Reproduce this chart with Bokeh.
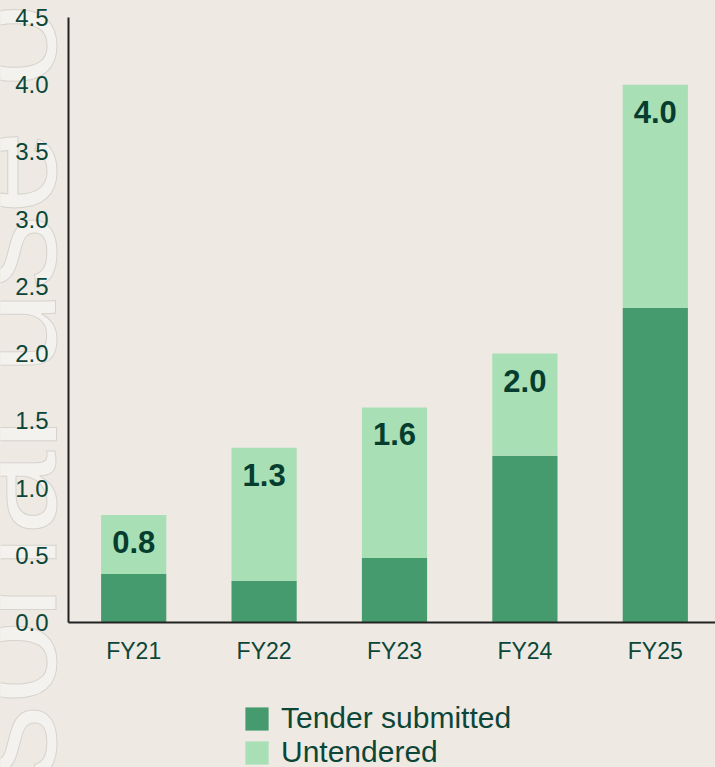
import math
from bokeh.plotting import figure
from bokeh.models import (Range1d, FixedTicker, ColumnDataSource, Legend, LegendItem,
                          Label, LabelSet, NumeralTickFormatter)
from bokeh.core.properties import value
from bokeh.embed import file_html
from bokeh.resources import INLINE

# ---- data ----
categories = ["FY21", "FY22", "FY23", "FY24", "FY25"]
tender_submitted = [0.36, 0.31, 0.48, 1.24, 2.34]
untendered = [0.44, 0.99, 1.12, 0.76, 1.66]
totals = [0.8, 1.3, 1.6, 2.0, 4.0]
total_labels = ["0.8", "1.3", "1.6", "2.0", "4.0"]
y_ticks = [0.0, 0.5, 1.0, 1.5, 2.0, 2.5, 3.0, 3.5, 4.0, 4.5]
series_names = ["Tender submitted", "Untendered"]

BG = "#EEEAE3"
DARK = "#459B6E"
LIGHT = "#A8DFB4"
TXT = "#0C4638"
LBL = "#063D2F"
FONT = "Liberation Sans"

W, H = 715, 767
X0_PX, Y0_PX = 68, 622          # where the axes cross (screen px)
PX_X = 130.4                    # px per category
PX_Y = (622 - 17) / 4.5         # px per unit

xs = list(range(len(categories)))
src = ColumnDataSource(dict(
    x=xs,
    sub=tender_submitted,
    top=[a + b for a, b in zip(tender_submitted, untendered)],
    total=totals,
    lab=total_labels,
))

x_start = -0.5 - X0_PX / PX_X
x_end = -0.5 + (W - X0_PX) / PX_X
y_start = -(H - Y0_PX) / PX_Y
y_end = Y0_PX / PX_Y

p = figure(width=W, height=H, output_backend="svg", toolbar_location=None,
           x_range=Range1d(x_start, x_end), y_range=Range1d(y_start, y_end),
           min_border=0)
p.background_fill_color = BG
p.border_fill_color = BG
p.outline_line_color = None
p.xgrid.visible = False
p.ygrid.visible = False

# watermark (drawn first, underneath everything)
wm = Label(x=-0.9985, y=-4.82, text="For personal use only", angle=math.pi / 2,
           text_font=FONT, text_font_size="152px", text_color="#F4F2EE",
           text_outline_color="#D6D3CD", text_align="left",
           text_baseline="alphabetic", level="underlay")
p.add_layout(wm)

r1 = p.vbar(x="x", width=0.5, bottom=0, top="sub", source=src,
            fill_color=DARK, line_color=None)
r2 = p.vbar(x="x", width=0.5, bottom="sub", top="top", source=src,
            fill_color=LIGHT, line_color=None)

labels = LabelSet(x="x", y="total", text="lab", source=src, y_offset=-27,
                  text_align="center", text_baseline="middle",
                  text_font=value(FONT), text_font_style="bold",
                  text_font_size="31px", text_color=LBL)
p.add_layout(labels)

# axes, pinned where they cross
p.xaxis.ticker = FixedTicker(ticks=xs)
p.xaxis.major_label_overrides = {i: c for i, c in enumerate(categories)}
p.xaxis.fixed_location = 0
p.xaxis.bounds = (-0.5, x_end)
p.yaxis.ticker = FixedTicker(ticks=y_ticks)
p.yaxis.formatter = NumeralTickFormatter(format="0.0")
p.yaxis.fixed_location = -0.5
p.yaxis.bounds = (0, 4.5)
for ax in (p.xaxis[0], p.yaxis[0]):
    ax.axis_line_color = "#222222"
    ax.axis_line_width = 2
    ax.major_tick_line_color = None
    ax.minor_tick_line_color = None
    ax.major_tick_in = 0
    ax.major_tick_out = 0
    ax.major_label_text_font = FONT
    ax.major_label_text_color = TXT
p.xaxis.major_label_text_font_size = "23px"
p.yaxis.major_label_text_font_size = "24px"
p.xaxis.major_label_standoff = 15
p.yaxis.major_label_standoff = 20

legend = Legend(items=[LegendItem(label=series_names[0], renderers=[r1]),
                       LegendItem(label=series_names[1], renderers=[r2])],
                location=(242, -2), orientation="vertical",
                glyph_width=29, glyph_height=29, label_standoff=10, spacing=0,
                padding=0, margin=0, border_line_color=None,
                background_fill_alpha=0, label_text_font=FONT,
                label_text_font_size="30px", label_text_color=TXT)
p.add_layout(legend)

open("out.html", "w").write(file_html(p, INLINE).replace(
    "</head>", "<style>body{background:#EEEAE3;}</style></head>"))
